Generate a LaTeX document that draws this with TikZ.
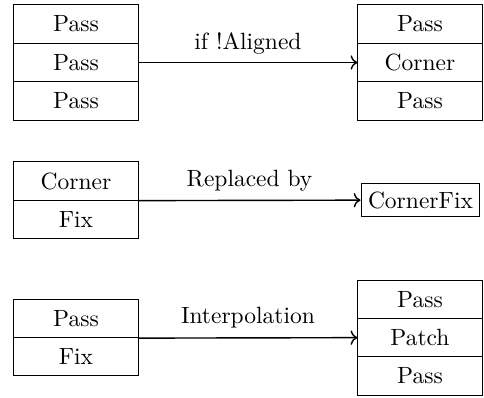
\documentclass[tikz,border=0pt]{standalone}
\usetikzlibrary{arrows.meta}
\begin{document}
\begin{tikzpicture}[x=0.4255pt,y=-0.4255pt,
  cell/.style={draw,thin,rectangle,minimum width=52.8pt,minimum height=16.3pt,inner sep=0pt,font=\normalsize},
  fixbox/.style={draw,thin,rectangle,minimum width=50.6pt,minimum height=14pt,inner sep=0pt},
  lbl/.style={anchor=base,inner sep=0pt},
  conn/.style={semithick,->}]
\useasboundingbox (0,0) rectangle (484,398);
% Row 1
\node[cell] (a1) at (76,24) {Pass};
\node[cell] (a2) at (76,62.5) {Pass};
\node[cell] (a3) at (76,101) {Pass};
\node[cell] (b1) at (420,24) {Pass};
\node[cell] (b2) at (420,62.5) {Corner};
\node[cell] (b3) at (420,101) {Pass};
\draw[conn] (a2.east) -- node[lbl,yshift=5.5pt] (l1) {if !Aligned} (b2.west);
% Row 2
\node[cell] (c1) at (76,181) {Corner};
\node[cell] (c2) at (76,219.3) {Fix};
\node[fixbox] (d1) at (420.5,200.15) {CornerFix};
\draw[conn] (c1.south east) -- node[lbl,yshift=6pt] (l2) {Replaced by} (d1.west);
% Row 3
\node[cell] (e1) at (76,318.5) {Pass};
\node[cell] (e2) at (76,356.8) {Fix};
\node[cell] (f1) at (420,299.35) {Pass};
\node[cell] (f2) at (420,337.65) {Patch};
\node[cell] (f3) at (420,375.95) {Pass};
\draw[conn] (e1.south east) -- node[lbl,yshift=6pt] (l3) {Interpolation} (f2.west);
\end{tikzpicture}
\end{document}
